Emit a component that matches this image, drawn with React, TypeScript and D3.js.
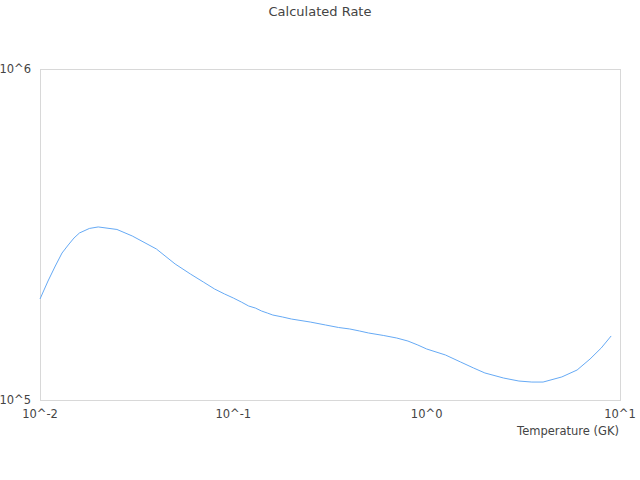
import React, { useEffect, useRef } from "react";
import * as d3 from "d3";

// temperature grid (GK)
const temperatures = [
  0.01, 0.011, 0.012, 0.013, 0.014, 0.015, 0.016, 0.018, 0.02, 0.025, 0.03,
  0.04, 0.05, 0.06, 0.07, 0.08, 0.09, 0.1, 0.11, 0.12, 0.13, 0.14, 0.15, 0.16,
  0.18, 0.2, 0.25, 0.3, 0.35, 0.4, 0.45, 0.5, 0.6, 0.7, 0.8, 0.9, 1, 1.25, 1.5,
  1.75, 2, 2.5, 3, 3.5, 4, 5, 6, 7, 8, 9,
];

// calculated rate at each temperature
const rates = [
  2.019e5, 2.288e5, 2.54e5, 2.78e5, 2.94e5, 3.087e5, 3.196e5, 3.298e5, 3.333e5,
  3.275e5, 3.13e5, 2.859e5, 2.576e5, 2.402e5, 2.272e5, 2.164e5, 2.091e5,
  2.033e5, 1.977e5, 1.923e5, 1.896e5, 1.857e5, 1.831e5, 1.806e5, 1.781e5,
  1.756e5, 1.72e5, 1.685e5, 1.656e5, 1.639e5, 1.616e5, 1.594e5, 1.566e5,
  1.539e5, 1.507e5, 1.466e5, 1.426e5, 1.368e5, 1.302e5, 1.249e5, 1.207e5,
  1.165e5, 1.141e5, 1.133e5, 1.133e5, 1.174e5, 1.232e5, 1.33e5, 1.436e5,
  1.561e5,
];

const xTicks = [0.01, 0.1, 1, 10];
const xTickLabels = ["10^-2", "10^-1", "10^0", "10^1"];
const yTicks = [1e5, 1e6];
const yTickLabels = ["10^5", "10^6"];

export default function App() {
  const svgRef = useRef<SVGSVGElement>(null);

  useEffect(() => {
    const W = 640;
    const H = 480;
    const margin = { top: 69, right: 20, bottom: 80, left: 40 };
    const width = W - margin.left - margin.right;
    const height = H - margin.top - margin.bottom;

    const root = d3.select(svgRef.current);
    root.selectAll("*").remove();
    root.attr("width", W).attr("height", H);

    const font = "DejaVu Sans, sans-serif";

    root
      .append("text")
      .attr("x", W / 2)
      .attr("y", 16)
      .attr("text-anchor", "middle")
      .style("font-family", font)
      .style("font-size", "13px")
      .attr("fill", "#444")
      .text("Calculated Rate");

    const svg = root
      .append("g")
      .attr("transform", `translate(${margin.left},${margin.top})`);

    const x = d3.scaleLog().domain([0.01, 10]).range([0, width]);
    const y = d3.scaleLog().domain([1e5, 1e6]).range([height, 0]);

    // plot frame
    svg
      .append("rect")
      .attr("x", 0.5)
      .attr("y", 0.5)
      .attr("width", width)
      .attr("height", height)
      .attr("fill", "none")
      .attr("stroke", "#d8d8d8");

    xTicks.forEach((t, i) => {
      svg
        .append("text")
        .attr("x", x(t))
        .attr("y", height + 18)
        .attr("text-anchor", "middle")
        .style("font-family", font)
        .style("font-size", "11.5px")
        .attr("fill", "#444")
        .text(xTickLabels[i]);
    });

    yTicks.forEach((t, i) => {
      svg
        .append("text")
        .attr("x", -9)
        .attr("y", y(t))
        .attr("dy", "0.35em")
        .attr("text-anchor", "end")
        .style("font-family", font)
        .style("font-size", "11.5px")
        .attr("fill", "#444")
        .text(yTickLabels[i]);
    });

    svg
      .append("text")
      .attr("x", width - 1)
      .attr("y", height + 35)
      .attr("text-anchor", "end")
      .style("font-family", font)
      .style("font-size", "11.5px")
      .attr("fill", "#444")
      .text("Temperature (GK)");

    const line = d3
      .line<number>()
      .x((_, i) => x(temperatures[i]))
      .y((d) => y(d));

    svg
      .append("path")
      .datum(rates)
      .attr("d", line)
      .attr("fill", "none")
      .attr("stroke", "#66aaf5")
      .attr("stroke-width", 1);
  }, []);

  return (
    <svg
      ref={svgRef}
      style={{ position: "absolute", left: 0, top: 0, background: "#fff" }}
    ></svg>
  );
}
